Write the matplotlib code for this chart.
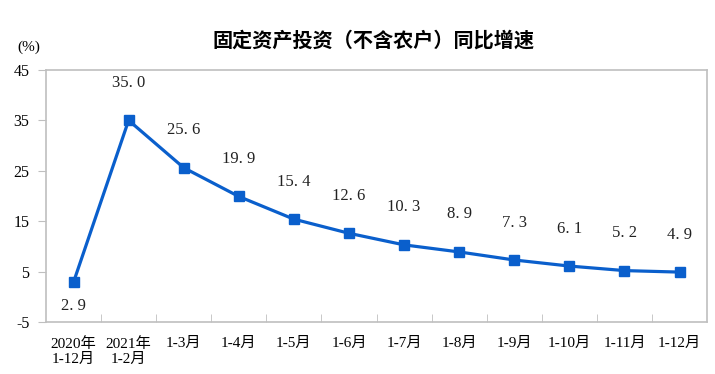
import matplotlib
matplotlib.use('Agg')
import matplotlib.pyplot as plt
import numpy as np

categories = ['2020年\n1-12月', '2021年\n1-2月', '1-3月', '1-4月', '1-5月', '1-6月',
              '1-7月', '1-8月', '1-9月', '1-10月', '1-11月', '1-12月']
growth = [2.9, 35.0, 25.6, 19.9, 15.4, 12.6, 10.3, 8.9, 7.3, 6.1, 5.2, 4.9]
yticks = [-5, 5, 15, 25, 35, 45]

serif = ['Liberation Serif', 'Noto Sans CJK SC']
line_color = '#0A5FCC'
frame_color = '#BFBFBF'

fig = plt.figure(figsize=(7.15, 3.74), dpi=100)
ax = fig.add_axes([0.0643, 0.139, 0.9247, 0.674])

x = np.arange(len(growth))
ax.plot(x, growth, color=line_color, lw=2.3, marker='s', ms=7.5, zorder=3)

for i, (xi, v) in enumerate(zip(x, growth)):
    dy = -17 if i == 0 else 27
    ax.annotate(f'{v:.1f}'.replace('.', '. '), (xi, v), xytext=(0, dy),
                textcoords='offset points', ha='center', va='center',
                fontsize=12, family=serif, color='#222222')

ax.set_xlim(-0.5, len(growth) - 0.5)
ax.set_ylim(-5, 45)
ax.set_yticks(yticks)
ax.set_yticklabels([str(t) for t in yticks], family=serif, fontsize=11.5)
ax.tick_params(axis='y', length=6, color=frame_color, pad=6)

ax.set_xticks(x)
ax.set_xticklabels(categories, family=serif, fontsize=11, linespacing=1.2)
ax.tick_params(axis='x', length=0, pad=11)
ax.set_xticks(np.arange(0.5, len(growth) - 0.5), minor=True)
ax.tick_params(axis='x', which='minor', direction='in', length=6, color=frame_color)

for s in ax.spines.values():
    s.set_color(frame_color)
    s.set_linewidth(1.2)

fig.text(0.04, 0.873, '(%)', fontsize=11, family=serif, ha='center', va='center')
fig.text(0.523, 0.893, '固定资产投资（不含农户）同比增速', fontsize=14.5, fontweight='bold',
         family=['Noto Sans CJK SC', 'DejaVu Sans'], ha='center', va='center')

fig.savefig('out.png', dpi=100)
